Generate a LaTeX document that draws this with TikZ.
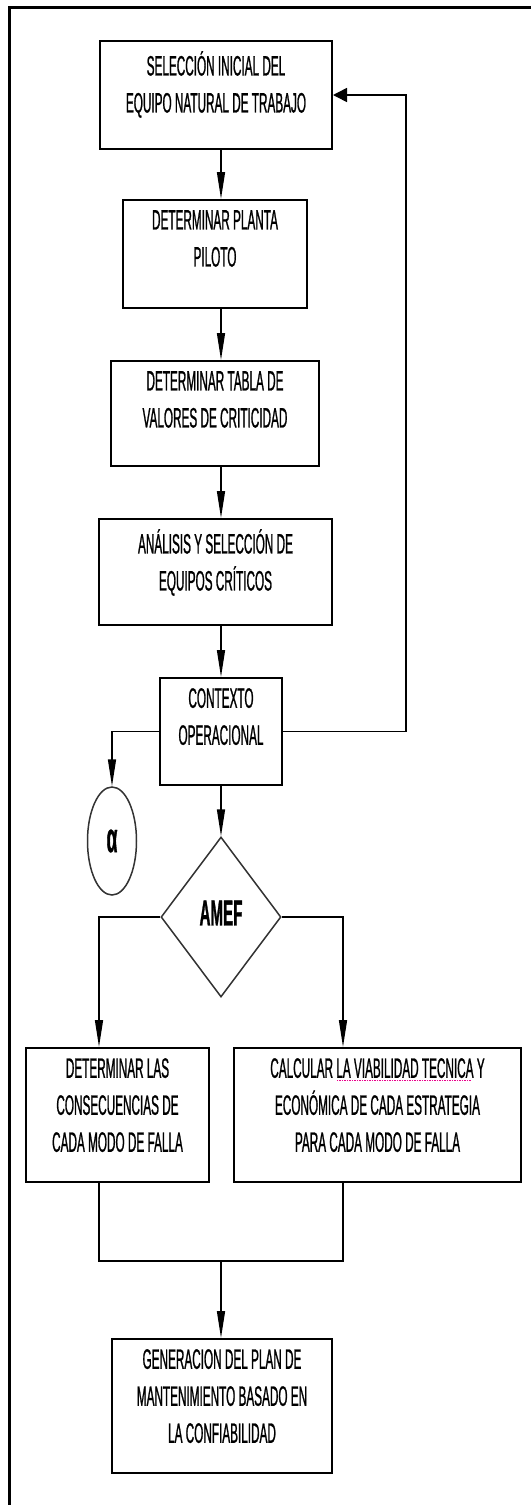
\documentclass[tikz,border=0pt]{standalone}
\usepackage{fontspec}
\setmainfont{Liberation Sans}[FakeStretch=0.42, FakeBold=0.8]
\usetikzlibrary{shapes.geometric, arrows.meta}

% dotted magenta proofing mark under a phrase
\newsavebox\spellbox
\newcommand\spellmark[1]{\sbox\spellbox{#1}\rlap{\raisebox{-3pt}{\textcolor{magenta}{\hbox to \wd\spellbox{\leaders\hbox to 2.5pt{\hss\rule{1.2pt}{1.2pt}\hss}\hfill}}}}\usebox\spellbox}

\begin{document}
\begin{tikzpicture}[x=1pt, y=-1pt,
  stepbox/.style={draw=black, line width=2pt, inner sep=0pt},
  boxtext/.style={anchor=north, align=center, inner sep=0pt,
    font=\fontsize{28}{37}\selectfont, execute at begin node=\strut},
  flow/.style={line width=1.5pt, -{Triangle[length=27pt, width=8pt]}},
  sideflow/.style={line width=1.5pt, -{Triangle[length=14pt, width=14pt]}},
  link/.style={line width=1.5pt},
  decide/.style={diamond, draw=black!80, line width=1.5pt, inner sep=0pt},
  connector/.style={ellipse, draw=black!80, line width=1.5pt, inner sep=0pt},
]
\useasboundingbox (0,0) rectangle (531,1505);
\fill[white] (0,0) rectangle (531,1505);

% page frame, top and left edges
\draw[line width=3pt] (9,1505) -- (9,7) -- (531,7);

% guide coordinates for the vertical connectors
\coordinate (sp) at (221,0);
\coordinate (fb) at (406,0);
\coordinate (bl) at (99,0);
\coordinate (brr) at (343,0);
\coordinate (mj) at (221,1261);

% process steps
\node[stepbox, minimum width=232pt, minimum height=108pt] (b1) at (216,95) {};
\node[boxtext] (t1) at ([yshift=-11pt]b1.north) {SELECCIÓN INICIAL DEL\\EQUIPO NATURAL DE TRABAJO};

\node[stepbox, minimum width=184pt, minimum height=108pt] (b2) at (215,254) {};
\node[boxtext] (t2) at ([yshift=-11pt]b2.north) {DETERMINAR PLANTA\\PILOTO};

\node[stepbox, minimum width=208pt, minimum height=105pt] (b3) at (215,413.5) {};
\node[boxtext] (t3) at ([yshift=-11pt]b3.north) {DETERMINAR TABLA DE\\VALORES DE CRITICIDAD};

\node[stepbox, minimum width=233pt, minimum height=106pt] (b4) at (215.5,572) {};
\node[boxtext] (t4) at ([yshift=-11pt]b4.north) {ANÁLISIS Y SELECCIÓN DE\\EQUIPOS CRÍTICOS};

\node[stepbox, minimum width=122pt, minimum height=107pt] (b5) at (221,731.5) {};
\node[boxtext] (t5) at ([yshift=-11pt]b5.north) {CONTEXTO\\OPERACIONAL};

\node[connector, minimum width=49pt, minimum height=108pt,
  font=\bfseries\fontsize{42}{42}\selectfont] (alpha) at (112,841) {α};

\node[decide, minimum width=120pt, minimum height=160pt,
  font=\bfseries\fontsize{36}{40}\selectfont] (amef) at (221,917) {\raisebox{8pt}{AMEF}};

\node[stepbox, minimum width=183pt, minimum height=134pt] (b6) at (117.5,1115) {};
\node[boxtext] (t6) at ([yshift=-11pt]b6.north) {DETERMINAR LAS\\CONSECUENCIAS DE\\CADA MODO DE FALLA};

\node[stepbox, minimum width=287pt, minimum height=134pt] (b7) at (377.5,1115) {};
\node[boxtext] (t7) at ([yshift=-11pt]b7.north) {CALCULAR \spellmark{LA VIABILIDAD TECNICA} Y\\ECONÓMICA DE CADA ESTRATEGIA\\PARA CADA MODO DE FALLA};

\node[stepbox, minimum width=220pt, minimum height=134pt] (b8) at (222,1406) {};
\node[boxtext] (t8) at ([yshift=-11pt]b8.north) {GENERACION DEL PLAN DE\\MANTENIMIENTO BASADO EN\\LA CONFIABILIDAD};

% main sequence
\draw[flow] (b1.south -| sp) -- (b2.north -| sp);
\draw[flow] (b2.south -| sp) -- (b3.north -| sp);
\draw[flow] (b3.south -| sp) -- (b4.north -| sp);
\draw[flow] (b4.south -| sp) -- (b5.north -| sp);
\draw[flow] (b5.south) -- (amef.north);

% feedback to the first step
\draw[sideflow] (b5.east) -| (fb |- b1.east) -- (b1.east);

% off-page connector
\draw[flow] (b5.west) -| (alpha.north);

% branches of the analysis
\draw[flow] (amef.west) -| (bl |- b6.north);
\draw[flow] (amef.east) -| (brr |- b7.north);

% merge into the final plan
\draw[link] (bl |- b6.south) -- (bl |- mj) -- (brr |- mj) -- (brr |- b7.south);
\draw[flow] (mj) -- (b8.north -| mj);
\end{tikzpicture}
\end{document}
